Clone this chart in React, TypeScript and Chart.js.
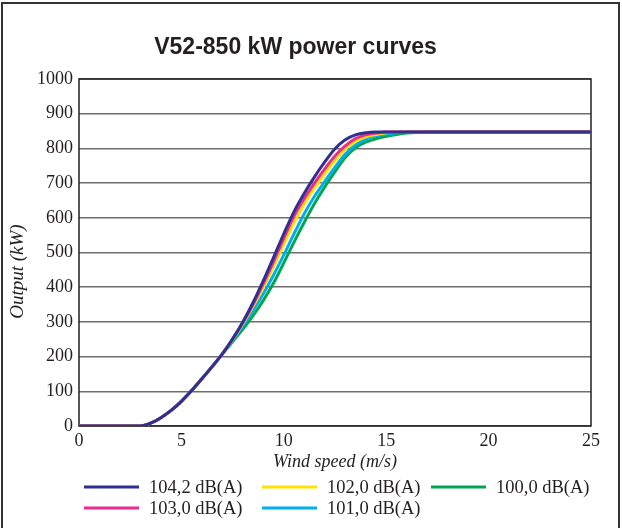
import React, { useEffect, useRef } from 'react';
import { Chart, registerables } from 'chart.js';

Chart.register(...registerables);

// ---- Data ----
const windSpeeds = [0, 3, 3.5, 4, 4.5, 5, 5.5, 6, 6.5, 7, 7.5, 8, 8.5, 9, 9.5, 10, 10.5, 11, 11.5, 12, 12.5, 13, 13.5, 14, 14.5, 15, 15.5, 16, 16.5, 17, 25];

const power1042 = [0, 0, 8, 24, 45, 71, 102, 136, 171, 208, 251, 300, 356, 419, 486, 554, 618, 671, 718, 761, 799, 825, 839, 845, 847, 847, 847, 847, 847, 847, 847];
const power1030 = [0, 0, 8, 24, 45, 71, 102, 136, 171, 208, 250, 298, 350, 410, 474, 541, 605, 656, 700, 741, 778, 807, 828, 839, 844, 847, 847, 847, 847, 847, 847];
const power1020 = [0, 0, 8, 24, 45, 71, 102, 136, 171, 208, 249, 295, 345, 400, 460, 524, 586, 640, 686, 727, 765, 798, 820, 833, 840, 845, 847, 847, 847, 847, 847];
const power1010 = [0, 0, 8, 24, 45, 71, 102, 136, 171, 208, 246, 289, 333, 381, 435, 493, 554, 612, 662, 705, 746, 784, 810, 826, 836, 841, 845, 847, 847, 847, 847];
const power1000 = [0, 0, 8, 24, 45, 71, 102, 136, 171, 207, 243, 279, 318, 362, 412, 470, 530, 587, 641, 689, 733, 774, 802, 818, 828, 835, 840, 844, 846, 847, 847];

// legend order (row-wise, 3 per row)
const seriesLabels = ['104,2 dB(A)', '102,0 dB(A)', '100,0 dB(A)', '103,0 dB(A)', '101,0 dB(A)'];
const seriesValues = [power1042, power1020, power1000, power1030, power1010];
const seriesColors = ['#2e3192', '#ffe200', '#00a651', '#ec2b8e', '#00aeef'];
const seriesDrawOrder = [0, 2, 4, 1, 3];

const chartTitle = 'V52-850 kW power curves';
const xAxisTitle = 'Wind speed (m/s)';
const yAxisTitle = 'Output (kW)';
const xMin = 0;
const xMax = 25;
const xStep = 5;
const yMin = 0;
const yMax = 1000;
const yStep = 100;

const SERIF = "'Liberation Serif', 'Times New Roman', serif";
const SANS = "'Liberation Sans', Arial, sans-serif";
const TEXT = '#231f20';

const framePlugin = {
  id: 'plotFrame',
  beforeDatasetsDraw(chart: any) {
    const { ctx, chartArea } = chart;
    ctx.save();
    ctx.strokeStyle = '#231f20';
    ctx.lineWidth = 1.5;
    ctx.strokeRect(chartArea.left, chartArea.top, chartArea.right - chartArea.left, chartArea.bottom - chartArea.top);
    ctx.restore();
  },
};

const extrasPlugin = {
  id: 'extras',
  afterDraw(chart: any) {
    const { ctx, chartArea } = chart;
    ctx.save();
    // y axis title
    ctx.translate(18, chartArea.top + (chartArea.bottom - chartArea.top) * 0.555);
    ctx.rotate(-Math.PI / 2);
    ctx.font = `italic 19px ${SERIF}`;
    ctx.fillStyle = TEXT;
    ctx.textAlign = 'center';
    ctx.textBaseline = 'middle';
    ctx.fillText(yAxisTitle, 0, 0);
    ctx.restore();

    // legend, 3 columns
    const colX = [84, 262, 431];
    const rowY = [487, 508];
    ctx.save();
    ctx.font = `18.5px ${SERIF}`;
    ctx.textBaseline = 'middle';
    ctx.textAlign = 'left';
    chart.data.datasets.forEach((ds: any, i: number) => {
      const x = colX[i % 3];
      const y = rowY[Math.floor(i / 3)];
      ctx.strokeStyle = ds.borderColor;
      ctx.lineWidth = 3;
      ctx.beginPath();
      ctx.moveTo(x, y);
      ctx.lineTo(x + 55, y);
      ctx.stroke();
      ctx.fillStyle = TEXT;
      ctx.fillText(ds.label, x + 65, y + 1);
    });
    ctx.restore();
  },
};

export default function App() {
  const canvasRef = useRef<HTMLCanvasElement | null>(null);

  useEffect(() => {
    const canvas = canvasRef.current;
    if (!canvas) return;
    const chart = new Chart(canvas, {
      type: 'line',
      data: {
        datasets: seriesLabels.map((label, i) => ({
          label,
          data: windSpeeds.map((x, j) => ({ x, y: seriesValues[i][j] })),
          borderColor: seriesColors[i],
          backgroundColor: seriesColors[i],
          borderWidth: 3,
          pointRadius: 0,
          cubicInterpolationMode: 'monotone' as const,
          fill: false,
          order: seriesDrawOrder[i],
        })),
      },
      options: {
        responsive: false,
        animation: false,
        devicePixelRatio: 1,
        layout: { padding: { left: 0, right: 31, top: 0, bottom: 54 } },
        plugins: {
          legend: { display: false },
          tooltip: { enabled: false },
          title: {
            display: true,
            text: chartTitle,
            color: TEXT,
            font: { family: SANS, size: 23, weight: 'bold', lineHeight: 1.2 },
            padding: { top: 34, bottom: 17.4 },
          },
        },
        scales: {
          x: {
            type: 'linear',
            min: xMin,
            max: xMax,
            ticks: { stepSize: xStep, color: TEXT, font: { family: SERIF, size: 18 }, padding: 4, maxRotation: 0, callback: (v: any) => String(v) },
            grid: { display: false, drawTicks: false },
            border: { display: false },
            title: {
              display: true,
              text: xAxisTitle,
              color: TEXT,
              font: { family: SERIF, size: 18, style: 'italic', lineHeight: 1.2 },
              padding: { top: 0, bottom: 1 },
            },
            afterFit: (s: any) => { s.height = 48; },
          },
          y: {
            min: yMin,
            max: yMax,
            ticks: { stepSize: yStep, color: TEXT, font: { family: SERIF, size: 18 }, padding: 6, callback: (v: any) => String(v) },
            grid: { color: '#6e6e6e', lineWidth: 1.5, drawTicks: false },
            border: { display: false },
            afterFit: (s: any) => { s.width = 79; },
          },
        },
      },
      plugins: [framePlugin, extrasPlugin],
    } as any);
    return () => chart.destroy();
  }, []);

  return (
    <div style={{ position: 'fixed', left: 0, top: 0, width: 622, height: 528, overflow: 'hidden', background: '#fff' }}>
      <div style={{ position: 'absolute', left: 1, top: 2, width: 615, height: 600, border: '2px solid #333' }} />
      <canvas ref={canvasRef} width={622} height={528} style={{ position: 'absolute', left: 0, top: 0, display: 'block' }} />
    </div>
  );
}
